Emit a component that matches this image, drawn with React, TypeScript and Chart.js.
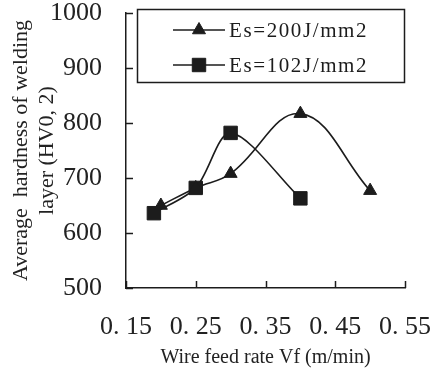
import React, { useEffect, useRef } from "react";
import { Chart, registerables } from "chart.js";

Chart.register(...registerables);

const seriesLabels = ["Es=200J/mm2", "Es=102J/mm2"];
const es200X = [0.2, 0.25, 0.3, 0.4, 0.5];
const es200Y = [650, 682, 708, 817, 677];
const es102X = [0.19, 0.25, 0.3, 0.4];
const es102Y = [636, 682, 782, 663];
const xTickValues = [0.15, 0.25, 0.35, 0.45, 0.55];
const xTickLabels = ["0. 15", "0. 25", "0. 35", "0. 45", "0. 55"];
const yTickValues = [500, 600, 700, 800, 900, 1000];
const yTitle = ["Average  hardness of welding", "layer (HV0, 2)"];
const xTitle = "Wire feed rate Vf (m/min)";

const INK = "#1c1c1c";
const SERIF = "'Liberation Serif', 'DejaVu Serif', serif";

function drawMarker(ctx: CanvasRenderingContext2D, style: string, x: number, y: number, r: number) {
  ctx.beginPath();
  if (style === "triangle") {
    let rad = 0;
    ctx.moveTo(x + Math.sin(rad) * r, y - Math.cos(rad) * r);
    rad += (2 * Math.PI) / 3;
    ctx.lineTo(x + Math.sin(rad) * r, y - Math.cos(rad) * r);
    rad += (2 * Math.PI) / 3;
    ctx.lineTo(x + Math.sin(rad) * r, y - Math.cos(rad) * r);
    ctx.closePath();
  } else {
    const s = Math.SQRT1_2 * r;
    ctx.rect(x - s, y - s, 2 * s, 2 * s);
  }
  ctx.fill();
  ctx.stroke();
}

const decorPlugin = {
  id: "decor",
  afterDraw(chart: any) {
    const { ctx, chartArea, scales } = chart;
    const xs = scales.x;
    const ys = scales.y;
    ctx.save();
    // inward tick marks
    ctx.strokeStyle = INK;
    ctx.lineWidth = 1.5;
    ctx.beginPath();
    yTickValues.forEach((v) => {
      const py = Math.round(ys.getPixelForValue(v)) + 0.5;
      ctx.moveTo(chartArea.left, py);
      ctx.lineTo(chartArea.left + 7, py);
    });
    xTickValues.forEach((v) => {
      const px = Math.round(xs.getPixelForValue(v)) + 0.5;
      ctx.moveTo(px, chartArea.bottom);
      ctx.lineTo(px, chartArea.bottom - 7);
    });
    ctx.stroke();

    // legend box
    const boxL = chartArea.left + 11.5;
    const boxT = chartArea.top - 3.5;
    const boxR = chartArea.right - 0.5;
    const boxB = chartArea.top + 69.5;
    ctx.lineWidth = 1.5;
    ctx.strokeRect(boxL, boxT, boxR - boxL, boxB - boxT);

    const rows = [chartArea.top + 17, chartArea.top + 52];
    chart.data.datasets.forEach((ds: any, i: number) => {
      const y = rows[i];
      const x0 = chartArea.left + 47;
      const x1 = chartArea.left + 99;
      ctx.strokeStyle = INK;
      ctx.lineWidth = 1.5;
      ctx.beginPath();
      ctx.moveTo(x0, y);
      ctx.lineTo(x1, y);
      ctx.stroke();
      ctx.fillStyle = INK;
      ctx.lineWidth = 1;
      drawMarker(ctx, ds.pointStyle, (x0 + x1) / 2, y, ds.pointRadius);
      ctx.font = `21px ${SERIF}`;
      (ctx as any).letterSpacing = "1.6px";
      ctx.textAlign = "left";
      ctx.textBaseline = "middle";
      ctx.fillStyle = INK;
      ctx.fillText(ds.label, x1 + 4, y + 1);
      (ctx as any).letterSpacing = "0px";
    });
    ctx.restore();
  },
};

export default function App() {
  const ref = useRef<HTMLCanvasElement | null>(null);
  useEffect(() => {
    document.body.style.margin = "0";
    const canvas = ref.current!;
    const chart = new Chart(canvas, {
      type: "line",
      data: {
        datasets: [
          {
            label: seriesLabels[0],
            data: es200X.map((x, i) => ({ x, y: es200Y[i] })),
            borderColor: INK,
            backgroundColor: INK,
            borderWidth: 1.6,
            pointStyle: "triangle",
            pointRadius: 7.5,
            pointBorderWidth: 1,
            tension: 0.4,
            fill: false,
          },
          {
            label: seriesLabels[1],
            data: es102X.map((x, i) => ({ x, y: es102Y[i] })),
            borderColor: INK,
            backgroundColor: INK,
            borderWidth: 1.6,
            pointStyle: "rect",
            pointRadius: 9.5,
            pointBorderWidth: 1,
            tension: 0.3,
            fill: false,
          },
        ],
      },
      options: {
        responsive: false,
        animation: false,
        events: [],
        layout: { padding: { top: 13, right: 28, left: 0, bottom: 0 } },
        plugins: { legend: { display: false }, tooltip: { enabled: false } },
        scales: {
          x: {
            type: "linear",
            min: 0.15,
            max: 0.55,
            afterBuildTicks: (scale: any) => {
              scale.ticks = xTickValues.map((v) => ({ value: v }));
            },
            afterFit: (scale: any) => {
              scale.height = 87;
              scale.paddingLeft = 0;
              scale.paddingRight = 0;
            },
            grid: { display: false, drawTicks: false },
            border: { display: true, color: INK, width: 1.5 },
            ticks: {
              color: "#222",
              font: { family: SERIF, size: 26 },
              padding: 24,
              maxRotation: 0,
              autoSkip: false,
              callback: (v: any) => {
                const idx = xTickValues.findIndex((t) => Math.abs(t - Number(v)) < 1e-6);
                return idx >= 0 ? xTickLabels[idx] : "";
              },
            },
            title: {
              display: true,
              text: xTitle,
              color: "#222",
              font: { family: SERIF, size: 20 },
              padding: { top: 0, bottom: 5 },
            },
          },
          y: {
            min: 500,
            max: 1000,
            afterBuildTicks: (scale: any) => {
              scale.ticks = yTickValues.map((v) => ({ value: v }));
            },
            afterFit: (scale: any) => {
              scale.width = 126;
              scale.paddingTop = 0;
              scale.paddingBottom = 0;
            },
            grid: { display: false, drawTicks: false },
            border: { display: true, color: INK, width: 1.5 },
            ticks: {
              color: "#222",
              font: { family: SERIF, size: 26 },
              padding: 24,
              callback: (v: any) => String(v),
            },
            title: {
              display: true,
              text: yTitle,
              color: "#222",
              font: { family: SERIF, size: 22, lineHeight: 1.15 },
              padding: { top: 9, bottom: 0 },
            },
          },
        },
      },
      plugins: [decorPlugin],
    } as any);
    return () => chart.destroy();
  }, []);
  return <canvas ref={ref} width={433} height={375} style={{ display: "block" }} />;
}
